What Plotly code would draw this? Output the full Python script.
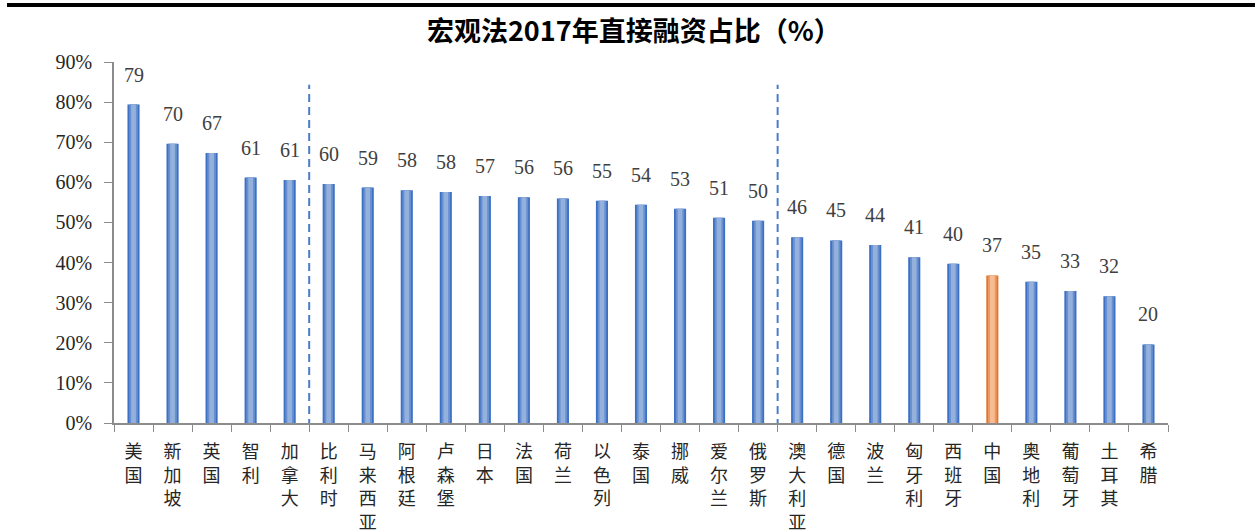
import plotly.graph_objects as go

categories = ["美国", "新加坡", "英国", "智利", "加拿大", "比利时", "马来西亚", "阿根廷", "卢森堡",
              "日本", "法国", "荷兰", "以色列", "泰国", "挪威", "爱尔兰", "俄罗斯", "澳大利亚",
              "德国", "波兰", "匈牙利", "西班牙", "中国", "奥地利", "葡萄牙", "土耳其", "希腊"]
values = [79.4, 69.6, 67.3, 61.2, 60.6, 59.6, 58.7, 58.0, 57.6, 56.6, 56.3, 56.0, 55.4, 54.4,
          53.4, 51.2, 50.4, 46.3, 45.5, 44.4, 41.3, 39.7, 36.8, 35.2, 32.9, 31.6, 19.6]
labels = [79, 70, 67, 61, 61, 60, 59, 58, 58, 57, 56, 56, 55, 54, 53, 51, 50, 46, 45, 44, 41,
          40, 37, 35, 33, 32, 20]
highlight = "中国"
group_breaks = [4.5, 16.5]  # dashed separators between category groups

x = ["<br>".join(c) for c in categories]

edge_cols = ["#E0772F" if c == highlight else "#3C70C4" for c in categories]
mid_cols = ["#EC9A63" if c == highlight else "#6890CF" for c in categories]
inner_cols = ["#F6BD94" if c == highlight else "#94B1DD" for c in categories]

fig = go.Figure()
fig.add_trace(go.Bar(x=x, y=values, width=0.31, marker=dict(color=edge_cols, line=dict(width=0)),
                     hoverinfo="skip"))
fig.add_trace(go.Bar(x=x, y=values, width=0.22, marker=dict(color=mid_cols, line=dict(width=0)),
                     hoverinfo="skip"))
fig.add_trace(go.Bar(x=x, y=values, width=0.12, marker=dict(color=inner_cols, line=dict(width=0)),
                     hoverinfo="skip"))

for xi, v, lab in zip(x, values, labels):
    fig.add_annotation(x=xi, y=v, text=str(lab), showarrow=False, yanchor="bottom", yshift=17,
                       font=dict(family="Liberation Serif", size=20, color="#404040"))

for b in group_breaks:
    fig.add_shape(type="line", xref="x", yref="y", x0=b, x1=b, y0=-1, y1=84.3,
                  line=dict(color="#4A7EC6", width=2, dash="8px,5px"))

# top black rule
fig.add_shape(type="rect", xref="paper", yref="paper", x0=-0.1015, x1=1.0825, y0=1.1524, y1=1.1634,
              fillcolor="black", line=dict(width=0), layer="above")

fig.update_layout(
    width=1255, height=532,
    barmode="overlay",
    showlegend=False,
    plot_bgcolor="white", paper_bgcolor="white",
    margin=dict(l=114, r=87, t=62, b=109, autoexpand=False),
    title=dict(text="<b>宏观法2017年直接融资占比（%）</b>", x=0.505, xanchor="center",
               y=0.94, yanchor="middle",
               font=dict(family="Noto Sans CJK SC", size=27, color="black")),
    xaxis=dict(type="category", showline=True, linecolor="#8C8C8C", linewidth=1.5,
               ticks="outside", ticklen=7, tickcolor="#8C8C8C", tickson="boundaries",
               showgrid=False, tickangle=0, ticklabelstandoff=12, automargin=False,
               tickfont=dict(family="Noto Sans CJK SC", size=18, color="#262626")),
    yaxis=dict(range=[0, 90], dtick=10, ticksuffix="%", showline=True, linecolor="#8C8C8C",
               linewidth=1.5, ticks="outside", ticklen=8, tickcolor="#8C8C8C", showgrid=False,
               zeroline=False, ticklabelstandoff=8, automargin=False,
               tickfont=dict(family="Liberation Serif", size=20, color="#262626")),
)

fig.write_html("out.html", config={"displayModeBar": False},
               post_script="document.body.style.margin='0';")
